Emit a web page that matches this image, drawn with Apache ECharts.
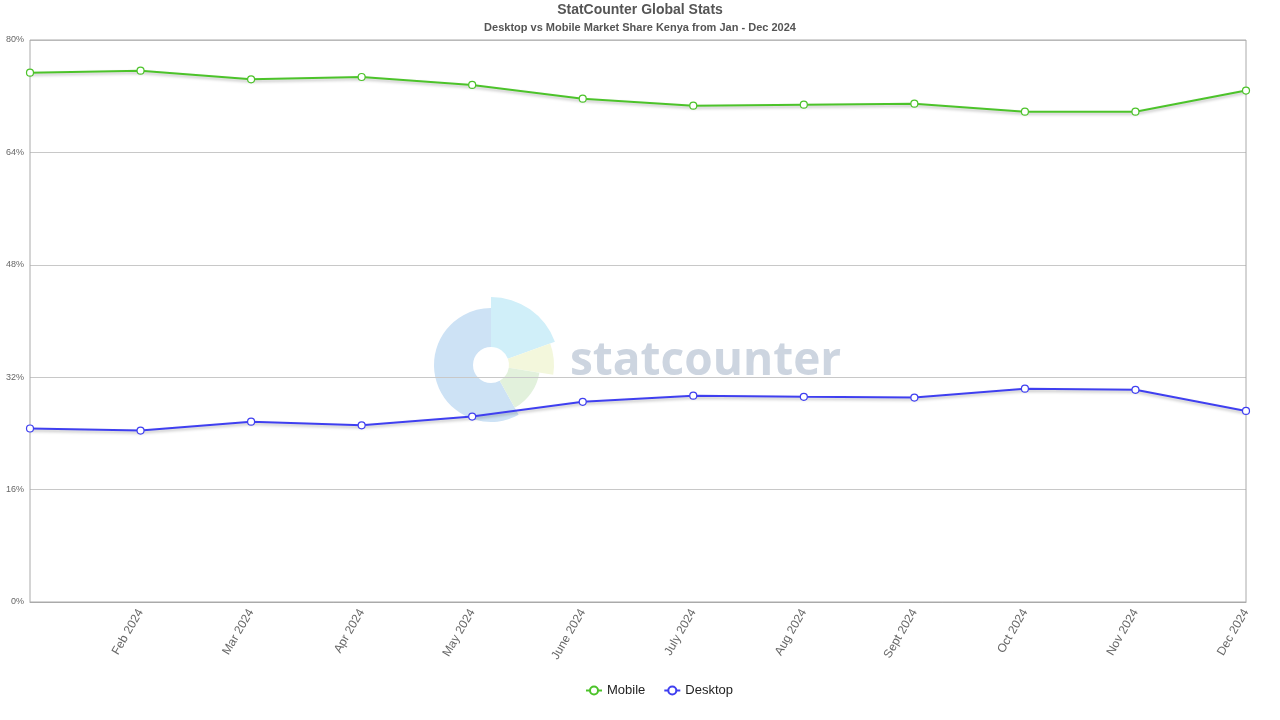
<!DOCTYPE html>
<html>
<head>
<meta charset="utf-8">
<script src="https://cdn.jsdelivr.net/npm/echarts@6/dist/echarts.min.js"></script>
<style>html,body{margin:0;padding:0;background:#fff}#c{width:1280px;height:720px}</style>
</head>
<body>
<div id="c"></div>
<script>
const categories = ["Jan 2024","Feb 2024","Mar 2024","Apr 2024","May 2024","June 2024","July 2024","Aug 2024","Sept 2024","Oct 2024","Nov 2024","Dec 2024"];
const mobile = [75.35, 75.63, 74.4, 74.73, 73.6, 71.65, 70.65, 70.8, 70.93, 69.8, 69.8, 72.8];
const desktop = [24.7, 24.4, 25.67, 25.15, 26.4, 28.5, 29.37, 29.2, 29.1, 30.37, 30.2, 27.2];
const yTicks = {min: 0, max: 80, interval: 16};

const chart = echarts.init(document.getElementById('c'));
const cx = 491, cy = 365;
function sector(r, a0, a1, color) {
  return {type: 'sector', z: 0, silent: true,
    shape: {cx: cx, cy: cy, r: r, r0: 18, startAngle: a0 * Math.PI / 180, endAngle: a1 * Math.PI / 180, clockwise: true},
    style: {fill: color}};
}
chart.setOption({
  animation: false,
  backgroundColor: '#fff',
  title: {
    text: 'StatCounter Global Stats',
    subtext: 'Desktop vs Mobile Market Share Kenya from Jan - Dec 2024',
    left: 'center', top: -2, itemGap: 5,
    textStyle: {fontFamily: 'Liberation Sans, Arial', fontSize: 14, fontWeight: 'bold', color: '#555'},
    subtextStyle: {fontFamily: 'Liberation Sans, Arial', fontSize: 11, fontWeight: 'bold', color: '#555'}
  },
  graphic: [
    sector(57, 61, 270, '#cde2f5'),
    sector(68, -90, -20, '#d0eff9'),
    sector(63, -20, 9, '#f3f7dc'),
    sector(49, 9, 61, '#e2f1dc'),
    {type: 'text', z: 0, silent: true, left: 570, top: 339,
      style: {text: 'statcounter', fontFamily: 'Open Sans, DejaVu Sans, sans-serif', fontSize: 46, fontWeight: 'bold', fill: '#cdd5e0'}}
  ],
  legend: {
    bottom: 18, left: 580, itemGap: 18, itemWidth: 16, itemHeight: 10,
    textStyle: {fontFamily: 'Liberation Sans, Arial', fontSize: 13, color: '#222'},
    data: ['Mobile', 'Desktop']
  },
  grid: {left: 30, right: 34, top: 40, bottom: 118, show: true, borderColor: '#aaa', borderWidth: 1, z: 3},
  xAxis: {
    type: 'category', data: categories, boundaryGap: false,
    axisLine: {show: true, lineStyle: {color: '#aaa'}},
    axisTick: {show: false},
    axisLabel: {rotate: 60, color: '#666', fontSize: 12, fontFamily: 'Liberation Sans, Arial', margin: 8,
      interval: function (i) { return i !== 0; }}
  },
  yAxis: {
    type: 'value', min: yTicks.min, max: yTicks.max, interval: yTicks.interval,
    axisLine: {show: false}, axisTick: {show: false},
    axisLabel: {formatter: '{value}%', color: '#666', fontSize: 9, fontFamily: 'Liberation Sans, Arial', margin: 6},
    splitLine: {lineStyle: {color: '#c8c8c8'}}
  },
  series: [
    {name: 'Mobile', type: 'line', data: mobile, z: 5, symbol: 'circle', symbolSize: 7,
      itemStyle: {color: '#fff', borderColor: '#4cc32a', borderWidth: 1.2},
      lineStyle: {color: '#4cc32a', width: 2, shadowColor: 'rgba(0,0,0,0.25)', shadowBlur: 3, shadowOffsetY: 2},
      emphasis: {disabled: true}},
    {name: 'Desktop', type: 'line', data: desktop, z: 5, symbol: 'circle', symbolSize: 7,
      itemStyle: {color: '#fff', borderColor: '#3f3ff0', borderWidth: 1.2},
      lineStyle: {color: '#3f3ff0', width: 2, shadowColor: 'rgba(0,0,0,0.25)', shadowBlur: 3, shadowOffsetY: 2},
      emphasis: {disabled: true}}
  ]
});
</script>
</body>
</html>
